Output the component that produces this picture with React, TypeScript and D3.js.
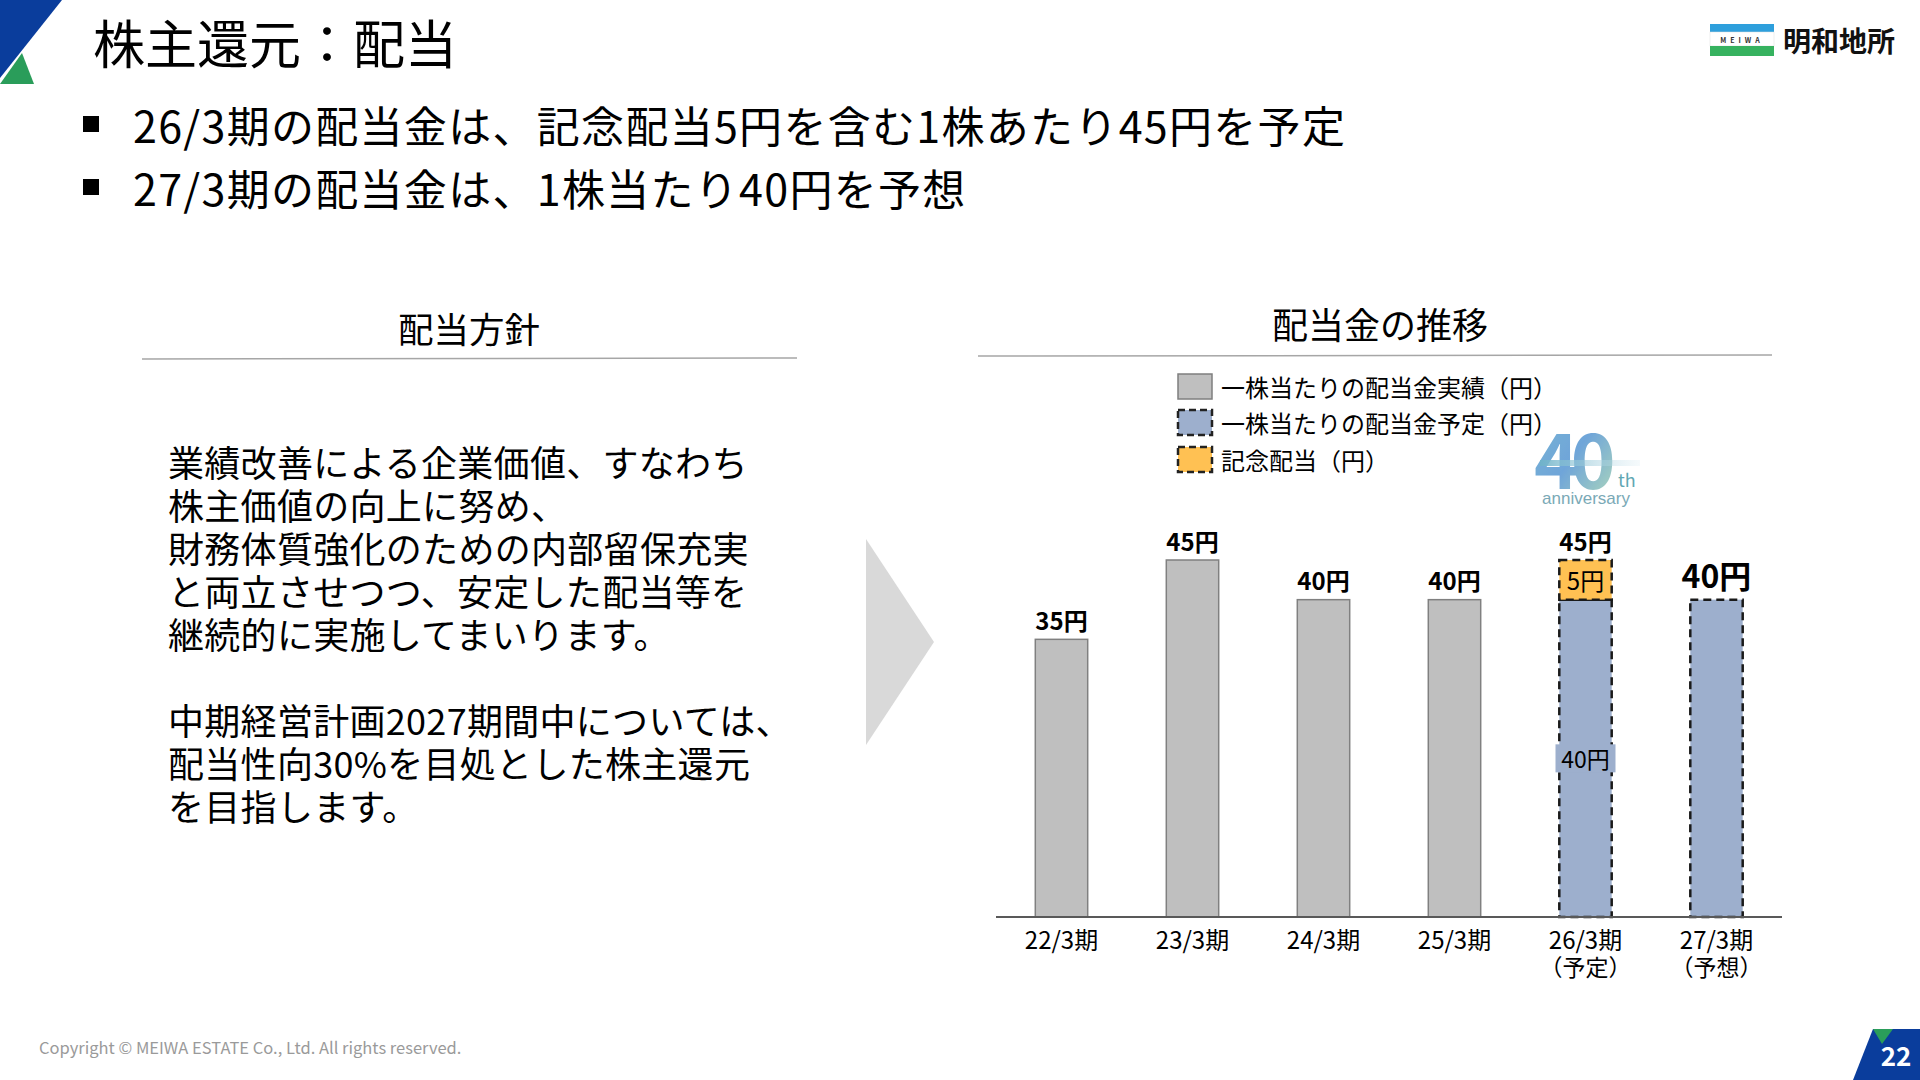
import React from "react";
import * as d3 from "d3";

const categories = ["22/3期", "23/3期", "24/3期", "25/3期", "26/3期", "27/3期"];
const subLabels = ["", "", "", "", "（予定）", "（予想）"];
const actualDividend: (number | null)[] = [35, 45, 40, 40, null, null];
const plannedDividend: (number | null)[] = [null, null, null, null, 40, 40];
const commemorativeDividend: (number | null)[] = [null, null, null, null, 5, null];
const legendLabels = ["一株当たりの配当金実績（円）", "一株当たりの配当金予定（円）", "記念配当（円）"];
const bullets = [
  "26/3期の配当金は、記念配当5円を含む1株あたり45円を予定",
  "27/3期の配当金は、1株当たり40円を予想",
];
const policyLines = [
  "業績改善による企業価値、すなわち",
  "株主価値の向上に努め、",
  "財務体質強化のための内部留保充実",
  "と両立させつつ、安定した配当等を",
  "継続的に実施してまいります。",
  "",
  "中期経営計画2027期間中については、",
  "配当性向30%を目処とした株主還元",
  "を目指します。",
];

const FONT = "'Noto Sans CJK JP', 'Noto Sans', sans-serif";
const GRAY = "#bfbfbf";
const BLUE = "#9dafcd";
const YELLOW = "#ffc153";
const DASH = "8,5";

export default function App() {
  const x = d3.scaleBand<string>().domain(categories).range([996, 1782]).paddingInner(0.6).paddingOuter(0.3);
  const y = d3.scaleLinear().domain([0, 45]).range([917, 560]);
  const bw = x.bandwidth();

  return (
    <svg width={1920} height={1080} style={{ position: "absolute", left: 0, top: 0, background: "#fff" }} fontFamily={FONT}>
      <defs>
        <linearGradient id="g40" x1="0" y1="0" x2="1" y2="1">
          <stop offset="0%" stopColor="#5aa6c9" />
          <stop offset="50%" stopColor="#4c8fd0" />
          <stop offset="100%" stopColor="#9fd3a8" />
        </linearGradient>
        <linearGradient id="gline" x1="0" y1="0" x2="1" y2="0">
          <stop offset="0%" stopColor="#6fb3c8" stopOpacity={0.9} />
          <stop offset="100%" stopColor="#cfe6ef" stopOpacity={0.2} />
        </linearGradient>
      </defs>
      <rect x={0} y={0} width={1920} height={1080} fill="#fff" />

      {/* corner decorations */}
      <polygon points="0,0 62,0 0,78" fill="#0a3d9c" />
      <polygon points="22,53 34,84 0,84" fill="#2a9d5a" />
      <polygon points="1873,1029 1920,1029 1920,1080 1853,1080" fill="#0a3d9c" />
      <polygon points="1873,1029 1893,1029 1882,1044" fill="#2a9d5a" />
      <text x={1896} y={1054} fill="#fff" fontSize={26} fontWeight={700} textAnchor="middle" dominantBaseline="central">22</text>

      {/* title */}
      <text x={93} y={41} fontSize={52} fill="#000" dominantBaseline="central">株主還元：配当</text>

      {/* company logo */}
      <rect x={1710} y={24} width={64} height={8} fill="#2e9fdc" />
      <rect x={1710} y={32} width={64} height={14} fill="#fff" stroke="#ddd" strokeWidth={0.5} />
      <rect x={1710} y={46} width={64} height={10} fill="#36b25f" />
      <text x={1742} y={39.5} fontSize={7} fontWeight={700} fill="#333" textAnchor="middle" dominantBaseline="central" letterSpacing={4}>MEIWA</text>
      <text x={1783} y={40} fontSize={28} fontWeight={700} fill="#111" dominantBaseline="central">明和地所</text>

      {/* bullets */}
      {bullets.map((b, i) => (
        <g key={i}>
          <rect x={83} y={116 + i * 63} width={16} height={16} fill="#000" />
          <text x={133} y={124 + i * 63} fontSize={43} letterSpacing={1.3} fill="#000" dominantBaseline="central">{b}</text>
        </g>
      ))}

      {/* left section */}
      <text x={469} y={327} fontSize={35.5} textAnchor="middle" dominantBaseline="central" fill="#000">配当方針</text>
      <line x1={142} x2={797} y1={359} y2={358} stroke="#a6a6a6" strokeWidth={1.5} />
      {policyLines.map((l, i) => (
        <text key={i} x={168} y={461 + i * 43} fontSize={36} letterSpacing={0.3} fill="#000" dominantBaseline="central">{l}</text>
      ))}

      {/* arrow */}
      <polygon points="866,539 934,642 866,745" fill="#d9d9d9" />

      {/* right section */}
      <text x={1380} y={323} fontSize={36} textAnchor="middle" dominantBaseline="central" fill="#000">配当金の推移</text>
      <line x1={978} x2={1772} y1={356} y2={355} stroke="#a6a6a6" strokeWidth={1.5} />

      {/* legend */}
      <g>
        <rect x={1178} y={374} width={34} height={25} fill={GRAY} stroke="#7f7f7f" strokeWidth={1.5} />
        <rect x={1178} y={410} width={34} height={25} fill={BLUE} stroke="#222" strokeWidth={2.5} strokeDasharray="7,4" />
        <rect x={1178} y={447} width={34} height={25} fill={YELLOW} stroke="#222" strokeWidth={2.5} strokeDasharray="7,4" />
        {legendLabels.map((l, i) => (
          <text key={i} x={1221} y={386 + i * 36.5} fontSize={24} fill="#000" dominantBaseline="central">{l}</text>
        ))}
      </g>

      {/* 40th anniversary */}
      <g>
        <text x={1534} y={456} fontSize={76} fontWeight={700} fill="url(#g40)" opacity={0.8} dominantBaseline="central" letterSpacing={-8}>40</text>
        <rect x={1540} y={460} width={100} height={6} fill="url(#gline)" />
        <text x={1618} y={479} fontSize={18} fill="#5fa7b3" dominantBaseline="central">th</text>
        <text x={1586} y={498} fontSize={17} fill="#7aa9b6" textAnchor="middle" dominantBaseline="central" fontFamily="'Liberation Sans', Arial, sans-serif">anniversary</text>
      </g>

      {/* bars */}
      {categories.map((c, i) => {
        const x0 = x(c)!;
        const a = actualDividend[i];
        const p = plannedDividend[i];
        const m = commemorativeDividend[i];
        return (
          <g key={c}>
            {a != null && (
              <rect x={x0} y={y(a)} width={bw} height={y(0) - y(a)} fill={GRAY} stroke="#808080" strokeWidth={1.5} />
            )}
            {p != null && (
              <rect x={x0} y={y(p)} width={bw} height={y(0) - y(p)} fill={BLUE} stroke="#1a1a1a" strokeWidth={2.5} strokeDasharray={DASH} />
            )}
            {p != null && m != null && (
              <rect x={x0} y={y(p + m)} width={bw} height={y(p) - y(p + m)} fill={YELLOW} stroke="#1a1a1a" strokeWidth={2.5} strokeDasharray={DASH} />
            )}
          </g>
        );
      })}

      {/* value labels */}
      {categories.map((c, i) => {
        const cx = x(c)! + bw / 2;
        const a = actualDividend[i];
        const p = plannedDividend[i];
        const m = commemorativeDividend[i];
        const total = (a ?? 0) + (p ?? 0) + (m ?? 0);
        const big = i === categories.length - 1;
        return (
          <g key={c}>
            <text x={cx} y={y(total) - (big ? 26 : 20)} fontSize={big ? 32 : 24} fontWeight={700} textAnchor="middle" dominantBaseline="central" fill="#000">{`${total}円`}</text>
            {p != null && m != null && (
              <>
                <text x={cx} y={(y(p) + y(p + m)) / 2} fontSize={24} textAnchor="middle" dominantBaseline="central" fill="#000">{`${m}円`}</text>
                <rect x={cx - 30} y={y(p / 2) - 14} width={60} height={28} fill={BLUE} />
                <text x={cx} y={y(p / 2)} fontSize={23} textAnchor="middle" dominantBaseline="central" fill="#000">{`${p}円`}</text>
              </>
            )}
          </g>
        );
      })}

      {/* axis */}
      <line x1={996} x2={1782} y1={y(0)} y2={y(0)} stroke="#595959" strokeWidth={2} />
      {categories.map((c, i) => {
        const cx = x(c)! + bw / 2;
        return (
          <g key={c}>
            <text x={cx} y={938} fontSize={24} textAnchor="middle" dominantBaseline="central" fill="#000">{c}</text>
            {subLabels[i] && (
              <text x={cx} y={966} fontSize={23} textAnchor="middle" dominantBaseline="central" fill="#000">{subLabels[i]}</text>
            )}
          </g>
        );
      })}

      {/* copyright */}
      <text x={39} y={1047} fontSize={16.5} fill="#9a9a9a" dominantBaseline="central">Copyright © MEIWA ESTATE Co., Ltd. All rights reserved.</text>
    </svg>
  );
}
